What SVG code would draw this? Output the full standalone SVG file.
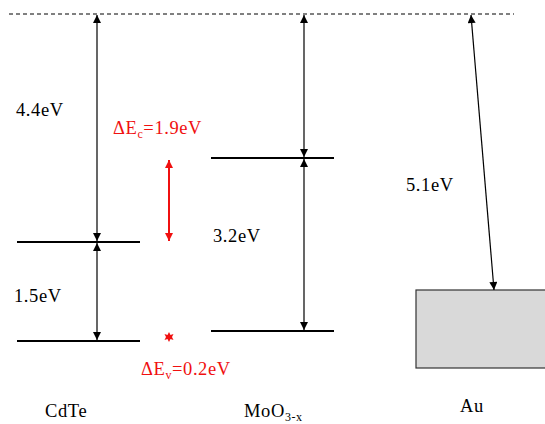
<svg xmlns="http://www.w3.org/2000/svg" width="545" height="424" viewBox="0 0 545 424">
<style>
.t{font-family:"Liberation Serif","Times New Roman",serif;font-size:18.5px;fill:#000;letter-spacing:0.6px}
.r{fill:#f01010}
.lvl{stroke:#000;stroke-width:2;fill:none}
.ar{stroke:#000;stroke-width:1.2;fill:none;marker-start:url(#h);marker-end:url(#h)}
</style>
<defs>
<marker id="h" viewBox="0 0 10 10" refX="10" refY="5" markerWidth="9" markerHeight="8" markerUnits="userSpaceOnUse" orient="auto-start-reverse"><path d="M0,0L10,5L0,10z" fill="#000"/></marker>
<marker id="hr" viewBox="0 0 10 10" refX="10" refY="5" markerWidth="9" markerHeight="8" markerUnits="userSpaceOnUse" orient="auto-start-reverse"><path d="M0,0L10,5L0,10z" fill="#f01010"/></marker>
</defs>
<rect width="545" height="424" fill="#fff"/>
<line x1="9" y1="14" x2="514" y2="14" stroke="#000" stroke-width="1" stroke-dasharray="4,3"/>
<g id="cdte">
<line class="lvl" x1="17" y1="242" x2="140" y2="242"/>
<line class="lvl" x1="17" y1="341" x2="140" y2="341"/>
<text class="t" x="45" y="417">CdTe</text>
</g>
<g id="moo3">
<line class="lvl" x1="211" y1="158" x2="334" y2="158"/>
<line class="lvl" x1="211" y1="331" x2="334" y2="331"/>
<text class="t" x="244" y="417">MoO<tspan font-size="12" dy="4">3-x</tspan></text>
</g>
<g id="au">
<rect x="416" y="290" width="130" height="78" fill="#d9d9d9" stroke="#333" stroke-width="1.2"/>
<text class="t" x="460" y="412">Au</text>
</g>
<g id="connectors">
<line class="ar" x1="97" y1="15" x2="97" y2="241"/>
<line class="ar" x1="97" y1="243" x2="97" y2="340"/>
<line class="ar" x1="304" y1="15" x2="304" y2="157"/>
<line class="ar" x1="304" y1="159" x2="304" y2="330"/>
<line class="ar" x1="471" y1="15" x2="494" y2="290"/>
<line x1="169" y1="160" x2="169" y2="241" stroke="#f01010" stroke-width="2" marker-start="url(#hr)" marker-end="url(#hr)"/>
</g>
<g id="labels">
<text class="t" x="16" y="116">4.4eV</text>
<text class="t" x="14" y="302">1.5eV</text>
<text class="t" x="213" y="242">3.2eV</text>
<text class="t" x="406" y="191">5.1eV</text>
<text class="t r" x="113" y="134">ΔE<tspan font-size="12" dy="4">c</tspan><tspan dy="-4">=1.9eV</tspan></text>
<text class="t r" x="141" y="375">ΔE<tspan font-size="12" dy="4">v</tspan><tspan dy="-4">=0.2eV</tspan></text>
<path d="M169,332 L170.5,335 L173.5,334 L172,337 L173.5,340 L170.5,339 L169,342 L167.5,339 L164.5,340 L166,337 L164.5,334 L167.5,335Z" fill="#f01010"/>
</g>
</svg>
